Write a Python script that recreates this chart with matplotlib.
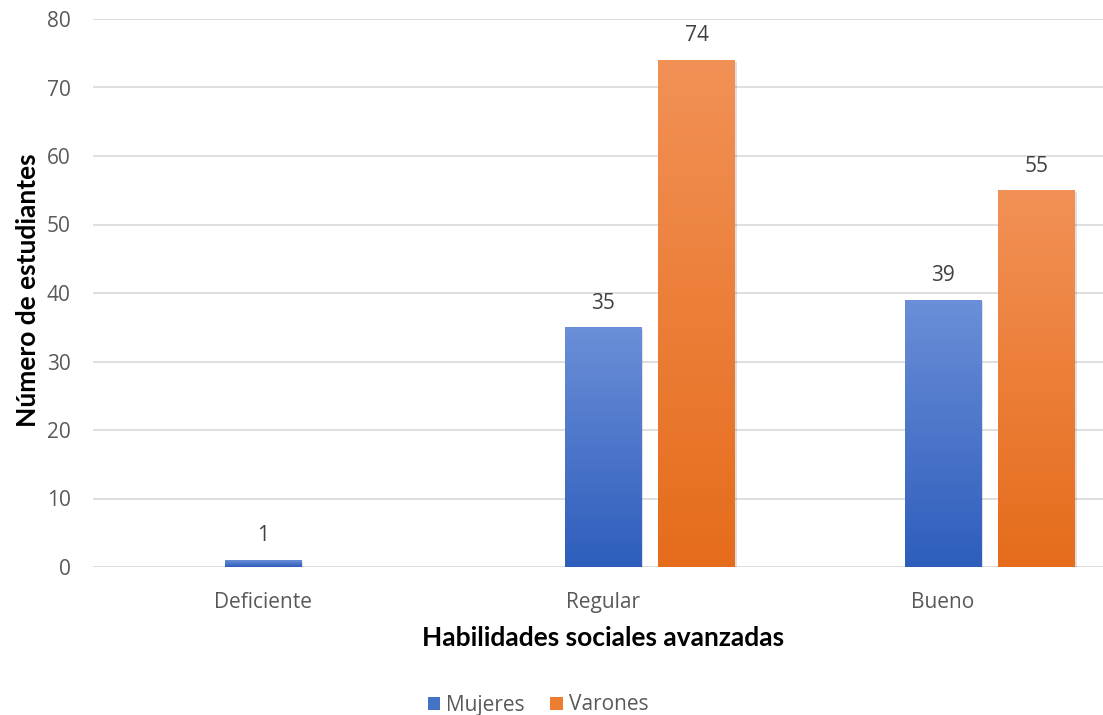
import numpy as np
import matplotlib
matplotlib.use("Agg")
import matplotlib.pyplot as plt
from matplotlib.colors import LinearSegmentedColormap
from matplotlib.patches import Rectangle, Patch
import matplotlib.transforms as mtransforms

categories = ["Deficiente", "Regular", "Bueno"]
series_names = ["Mujeres", "Varones"]
mujeres = [1, 35, 39]
varones = [0, 74, 55]
yticks = [0, 10, 20, 30, 40, 50, 60, 70, 80]

fig = plt.figure(figsize=(11.03, 7.15), dpi=100)
ax = fig.add_axes([93 / 1103, (715 - 567) / 715, 1020 / 1103, (567 - 19) / 715])

x = np.arange(len(categories))
width = 0.226
offsets = [0.0, 0.276]
grads = [
    ("#6b8fd8", "#2e5dbc", "#4472c4"),
    ("#f29156", "#e56c1b", "#ed7d31"),
]

ax.set_xlim(-0.5, 2.5)
ax.set_ylim(0, 80)
ax.set_yticks(yticks)
ax.yaxis.grid(True, color="#d9d9d9", lw=1.2)
ax.set_axisbelow(True)
for s in ax.spines.values():
    s.set_visible(False)
ax.tick_params(axis="both", length=0, labelsize=15, labelcolor="#595959")
ax.tick_params(axis="x", pad=18)
ax.tick_params(axis="y", pad=16)
ax.set_xticks(x)
ax.set_xticklabels(categories, fontfamily="Open Sans")
for lbl in ax.get_yticklabels():
    lbl.set_fontfamily("Open Sans")

for vals, off, (top, bot, base) in zip([mujeres, varones], offsets, grads):
    cmap = LinearSegmentedColormap.from_list("g", [bot, top])
    bars = ax.bar(x + off, vals, width, color="none", zorder=3)
    for b, v in zip(bars, vals):
        if v <= 0:
            continue
        bx, by, bw, bh = b.get_x(), b.get_y(), b.get_width(), b.get_height()
        shadow_t = ax.transData + mtransforms.ScaledTranslation(2 / 100, -2 / 100, fig.dpi_scale_trans)
        sh = Rectangle((bx, by), bw, bh, transform=shadow_t, color="black", alpha=0.12, zorder=2, lw=0)
        ax.add_patch(sh)
        grad = np.linspace(0, 1, 256).reshape(-1, 1)
        im = ax.imshow(grad, cmap=cmap, origin="lower", aspect="auto",
                       extent=[bx, bx + bw, by, by + bh], zorder=3)
        im.set_clip_path(b)
        ax.text(b.get_x() + bw / 2, v + 2.0, f"{v}", ha="center", va="bottom",
                fontsize=15, color="#404040", fontfamily="Open Sans", zorder=4)

ax.set_xlim(-0.5, 2.5)
ax.set_ylim(0, 80)

fig.text(28 / 1103, 1 - 290 / 715, "Número de estudiantes", rotation=90, ha="center", va="center",
         fontsize=19, fontweight="bold", fontfamily="Lato", color="black")
fig.text(603 / 1103, 1 - 638 / 715, "Habilidades sociales avanzadas", ha="center", va="center",
         fontsize=19, fontweight="bold", fontfamily="Lato", color="black")

handles = [Patch(facecolor="#4472c4", edgecolor="none"), Patch(facecolor="#ed7d31", edgecolor="none")]
leg = fig.legend(handles, series_names, loc="center", bbox_to_anchor=(538 / 1103, 1 - 705 / 715),
                 ncol=2, frameon=False, handlelength=0.6, handleheight=0.6,
                 handletextpad=0.3, columnspacing=1.2, prop={"family": "Open Sans", "size": 15})
for t in leg.get_texts():
    t.set_color("#595959")

fig.savefig("out.png", dpi=100)
